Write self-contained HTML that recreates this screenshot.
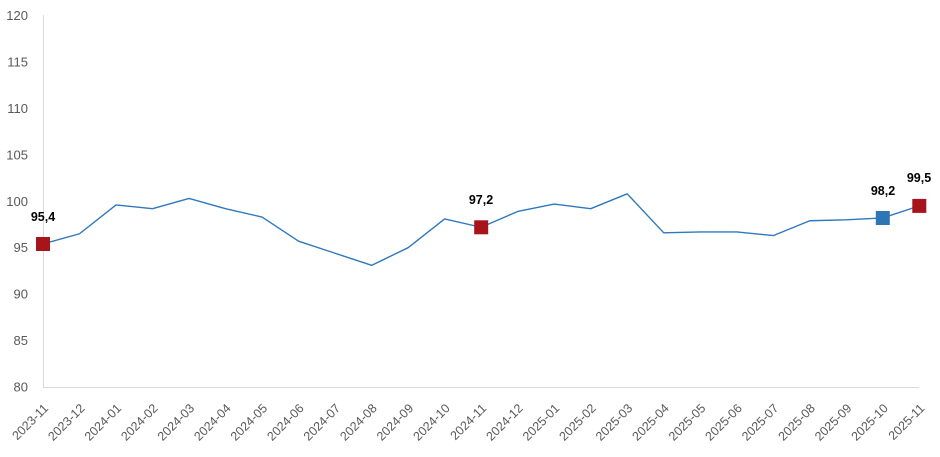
<!DOCTYPE html>
<html>
<head>
<meta charset="utf-8">
<style>
html,body{margin:0;padding:0;background:#fff;}
svg{display:block;}
text{font-family:"Liberation Sans",Arial,sans-serif;}
</style>
</head>
<body>
<svg width="940" height="457" viewBox="0 0 940 457" xmlns="http://www.w3.org/2000/svg">
<rect width="940" height="457" fill="#fff"/>
<!-- axes -->
<line x1="43.5" y1="15" x2="43.5" y2="387" stroke="#d9d9d9" stroke-width="1"/>
<line x1="43" y1="387.5" x2="919" y2="387.5" stroke="#d9d9d9" stroke-width="1"/>
<!-- y labels -->
<g font-size="13" fill="#595959" text-anchor="end">
<text x="28" y="20">120</text>
<text x="28" y="66.5">115</text>
<text x="28" y="113">110</text>
<text x="28" y="159.3">105</text>
<text x="28" y="205.8">100</text>
<text x="28" y="252.2">95</text>
<text x="28" y="298.7">90</text>
<text x="28" y="345.1">85</text>
<text x="28" y="391.5">80</text>
</g>
<!-- series -->
<polyline fill="none" stroke="#2f78bd" stroke-width="1.4" stroke-linejoin="round"
points="43,243.97 79.51,233.76 116.03,204.96 152.54,208.68 189.05,198.46 225.56,208.68 262.08,217.04 298.59,241.19 335.1,253.26 371.62,265.33 408.13,247.69 444.64,218.9 481.16,227.25 517.67,211.47 554.18,204.04 590.7,208.68 627.21,193.82 663.72,232.83 700.23,231.9 736.75,231.9 773.26,235.61 809.77,220.75 846.29,219.82 882.8,217.97 919.31,205.89"/>
<!-- markers -->
<rect x="36" y="237" width="14" height="14" fill="#a8141c"/>
<rect x="474.2" y="220.3" width="14" height="14" fill="#a8141c"/>
<rect x="875.8" y="211" width="14" height="14" fill="#2e75b6"/>
<rect x="912.3" y="198.9" width="14" height="14" fill="#a8141c"/>
<!-- data labels -->
<g font-size="12.5" font-weight="bold" fill="#000" text-anchor="middle">
<text x="43" y="221">95,4</text>
<text x="481" y="204">97,2</text>
<text x="883" y="195">98,2</text>
<text x="919" y="182">99,5</text>
</g>
<!-- x labels -->
<g font-size="12.5" fill="#595959" text-anchor="end">
<text transform="translate(49,409) rotate(-45)">2023-11</text>
<text transform="translate(85.51,409) rotate(-45)">2023-12</text>
<text transform="translate(122.03,409) rotate(-45)">2024-01</text>
<text transform="translate(158.54,409) rotate(-45)">2024-02</text>
<text transform="translate(195.05,409) rotate(-45)">2024-03</text>
<text transform="translate(231.56,409) rotate(-45)">2024-04</text>
<text transform="translate(268.08,409) rotate(-45)">2024-05</text>
<text transform="translate(304.59,409) rotate(-45)">2024-06</text>
<text transform="translate(341.1,409) rotate(-45)">2024-07</text>
<text transform="translate(377.62,409) rotate(-45)">2024-08</text>
<text transform="translate(414.13,409) rotate(-45)">2024-09</text>
<text transform="translate(450.64,409) rotate(-45)">2024-10</text>
<text transform="translate(487.16,409) rotate(-45)">2024-11</text>
<text transform="translate(523.67,409) rotate(-45)">2024-12</text>
<text transform="translate(560.18,409) rotate(-45)">2025-01</text>
<text transform="translate(596.7,409) rotate(-45)">2025-02</text>
<text transform="translate(633.21,409) rotate(-45)">2025-03</text>
<text transform="translate(669.72,409) rotate(-45)">2025-04</text>
<text transform="translate(706.23,409) rotate(-45)">2025-05</text>
<text transform="translate(742.75,409) rotate(-45)">2025-06</text>
<text transform="translate(779.26,409) rotate(-45)">2025-07</text>
<text transform="translate(815.77,409) rotate(-45)">2025-08</text>
<text transform="translate(852.29,409) rotate(-45)">2025-09</text>
<text transform="translate(888.8,409) rotate(-45)">2025-10</text>
<text transform="translate(925.31,409) rotate(-45)">2025-11</text>
</g>
</svg>
</body>
</html>
